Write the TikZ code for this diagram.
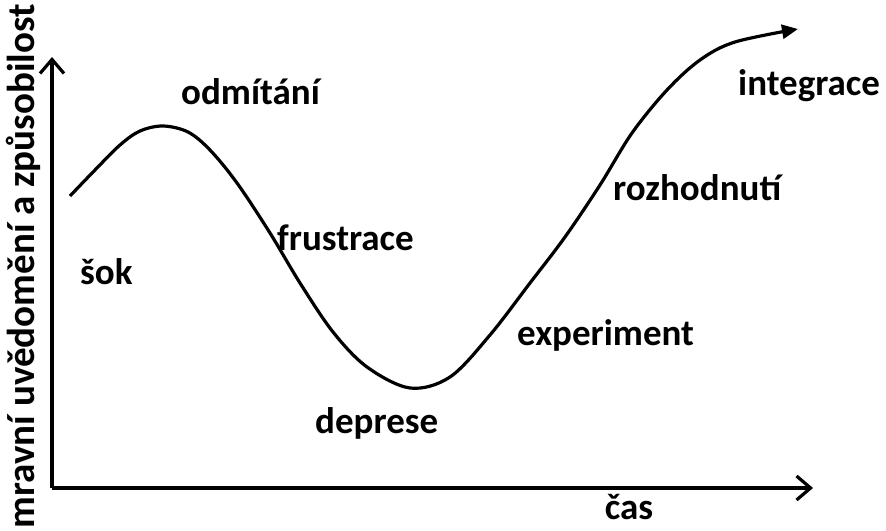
\documentclass[tikz,border=0pt]{standalone}
\usepackage{fontspec}
\setmainfont{Carlito}
\usetikzlibrary{arrows.meta}

\tikzset{
  axis/.style={line width=3.2pt, -{Straight Barb[length=14pt,width=24pt]}},
  curve/.style={line width=3.2pt, -{Triangle[length=16pt,width=14pt]}},
  phase/.style={font=\bfseries\fontsize{37}{42}\selectfont, inner sep=0pt, anchor=base west}
}

\begin{document}
\begin{tikzpicture}[x=1pt,y=-1pt]
  \useasboundingbox (0,0) rectangle (886,530);

  % osy
  \coordinate (origin) at (52,488);
  \coordinate (ytip) at (52,57);
  \coordinate (xtip) at (813,488);
  \draw[axis] (origin) -- (xtip);
  \draw[axis] (origin) -- (ytip);

  \node[font=\bfseries\fontsize{39}{44}\selectfont, rotate=90, inner sep=0pt]
    (ylabel) at (23,266) {mravní uvědomění a způsobilost};
  \node[phase, anchor=base] (cas) at (629,519) {čas};

  % křivka
  \draw[curve] plot[smooth, tension=0.55] coordinates {
    (70,196) (95,170) (120,145) (140,131) (163,126) (188,132) (210,150)
    (237,183) (270,233) (300,283) (333,332) (367,367) (410,388)
    (450,377) (490,335) (530,283) (565,237) (600,185) (632,133)
    (667,90) (700,60) (735,42) (798,29)};

  % fáze
  \node[phase] (odmitani) at (181,104) {odmítání};
  \node[phase] (sok) at (80,284) {šok};
  \node[phase] (frustrace) at (277,250) {frustrace};
  \node[phase] (deprese) at (315,433) {deprese};
  \node[phase] (experiment) at (517,345) {experiment};
  \node[phase] (rozhodnuti) at (613,200) {rozhodnutí};
  \node[phase] (integrace) at (738,95) {integrace};
\end{tikzpicture}
\end{document}
